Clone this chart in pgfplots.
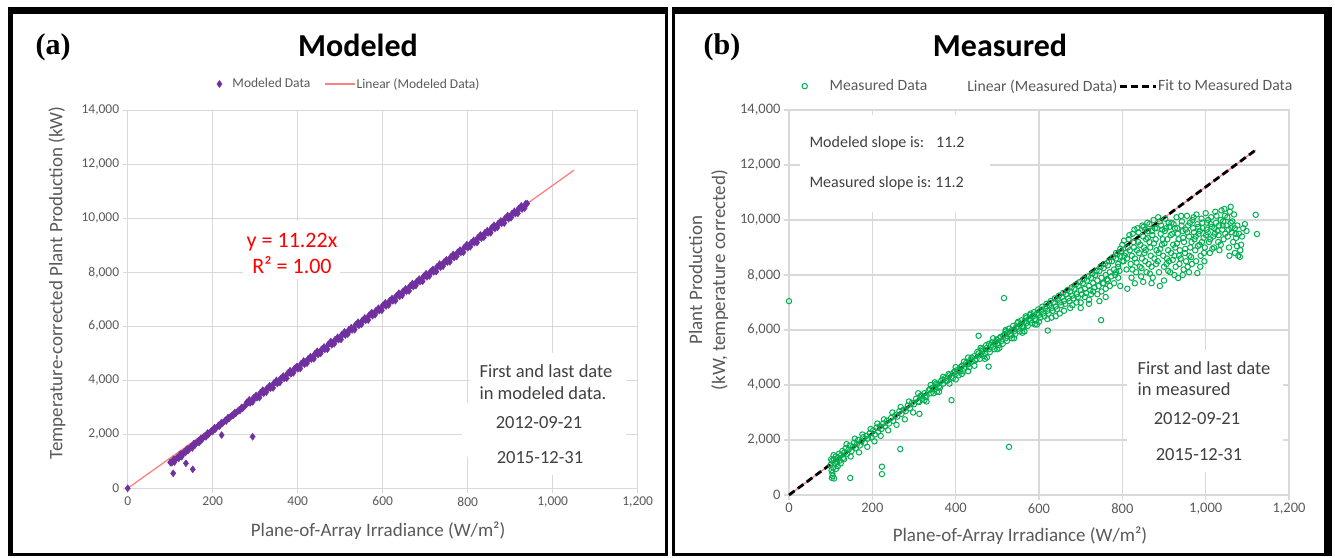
\documentclass[border=0pt]{standalone}
\usepackage{fontspec}
\setmainfont{Carlito}
\newfontfamily\serifbf{Liberation Serif}
\usepackage{pgfplots}
\pgfplotsset{compat=1.18}
\usepackage{pgfplotstable}

\definecolor{gridgray}{HTML}{D9D9D9}
\definecolor{txtgray}{HTML}{595959}
\definecolor{anngray}{HTML}{404040}
\definecolor{modpurple}{HTML}{7030A0}
\definecolor{trendpink}{HTML}{FF8080}
\definecolor{measgreen}{HTML}{00B050}

\pgfplotstableread{
x y
0 0
100 962
108 1072
116 1132
124 1271
132 1331
140 1461
148 1531
156 1660
164 1720
172 1850
180 1920
188 2049
196 2109
204 2239
212 2299
220 2428
228 2488
236 2618
244 2678
252 2807
260 2867
268 2997
276 3057
284 3186
292 3226
300 3356
308 3416
316 3556
324 3605
332 3725
340 3775
348 3925
356 3964
364 4094
372 4124
380 4284
388 4323
396 4453
404 4493
412 4643
420 4682
428 4812
436 4842
444 5002
452 5041
460 5171
468 5191
476 5361
484 5400
492 5530
500 5570
508 5720
516 5760
524 5889
532 5919
540 6079
548 6119
556 6248
564 6288
572 6438
580 6478
588 6607
596 6637
604 6797
612 6837
620 6966
628 7006
636 7156
644 7196
652 7325
660 7355
668 7515
676 7555
684 7684
692 7724
700 7874
708 7914
716 8044
724 8073
732 8233
740 8273
748 8403
756 8442
764 8592
772 8632
780 8762
788 8791
796 8951
804 8991
812 9121
820 9160
828 9310
836 9350
844 9480
852 9509
860 9669
868 9709
876 9839
884 9878
892 10028
900 10068
908 10198
916 10228
924 10387
932 10427
940 10547
104 947
112 1077
120 1106
128 1276
136 1326
144 1446
152 1495
160 1655
168 1695
176 1845
184 1904
192 2044
200 2104
208 2234
216 2304
224 2423
232 2493
240 2623
248 2693
256 2812
264 2882
272 2992
280 3182
288 3161
296 3351
304 3351
312 3541
320 3520
328 3710
336 3710
344 3900
352 3879
360 4069
368 4069
376 4259
384 4238
392 4428
400 4428
408 4618
416 4598
424 4787
432 4787
440 4977
448 4957
456 5146
464 5146
472 5336
480 5316
488 5505
496 5505
504 5695
512 5675
520 5864
528 5864
536 6054
544 6034
552 6223
560 6223
568 6413
576 6393
584 6582
592 6582
600 6772
608 6752
616 6942
624 6941
632 7131
640 7111
648 7301
656 7300
664 7490
672 7470
680 7660
688 7659
696 7849
704 7829
712 8019
720 8018
728 8208
736 8188
744 8378
752 8377
760 8567
768 8547
776 8737
784 8736
792 8926
800 8906
808 9096
816 9096
824 9285
832 9265
840 9455
848 9455
856 9644
864 9624
872 9814
880 9814
888 10003
896 9983
904 10173
912 10173
920 10362
928 10342
936 10532
102 944
110 974
118 1144
126 1184
134 1353
142 1393
150 1553
158 1593
166 1753
174 1792
182 1942
190 1992
198 2142
206 2191
214 2331
222 2391
230 2521
238 2580
246 2710
254 2770
262 2900
270 2959
278 3089
286 3279
294 3199
302 3438
310 3358
318 3638
326 3558
334 3797
342 3717
350 3997
358 3917
366 4157
374 4076
382 4356
390 4276
398 4516
406 4435
414 4715
422 4635
430 4875
438 4794
446 5074
454 4994
462 5234
470 5153
478 5433
486 5353
494 5593
502 5512
510 5792
518 5712
526 5952
534 5871
542 6151
550 6071
558 6311
566 6231
574 6510
582 6430
590 6670
598 6590
606 6869
614 6789
622 7029
630 6949
638 7228
646 7148
654 7388
662 7308
670 7587
678 7507
686 7747
694 7667
702 7946
710 7866
718 8106
726 8026
734 8305
742 8225
750 8465
758 8385
766 8665
774 8584
782 8824
790 8744
798 9024
806 8943
814 9183
822 9103
830 9383
838 9302
846 9542
854 9462
862 9742
870 9661
878 9901
886 9821
894 10101
902 10020
910 10260
918 10180
926 10460
934 10379
107 556
153 704
137 926
127 1170
221 1974
294 1911
}\modeled

\pgfplotstableread{
x y
0 7050
100 1100
102 900
104 1250
105 700
106 1000
108 1300
110 1150
112 1400
115 1200
118 1350
120 1500
122 1250
125 1450
128 1600
130 1350
133 1550
136 1700
140 1500
143 1650
146 1800
150 1600
153 1750
156 1900
160 1700
163 1850
166 2000
170 1800
174 1950
178 2100
182 1900
186 2150
190 2050
194 2250
198 2100
202 2350
206 2200
210 2450
214 2300
218 2500
222 2400
226 2600
230 2500
235 2700
240 2600
245 2800
250 2700
255 2900
260 2850
265 3050
270 2950
275 3100
280 3050
285 3250
290 3150
295 3350
300 3300
101 1300
104 800
107 1450
113 950
117 1050
124 1150
132 1300
138 1850
148 1400
158 2050
168 1550
176 2200
188 1750
196 2400
205 1950
212 2600
220 2150
228 2750
238 2350
248 3000
258 2550
268 3200
278 2750
288 3400
298 3000
103 620
108 600
147 620
223 1030
223 760
267 1670
313 2950
390 3450
479 4670
528 1750
516 7160
455 5790
621 5980
749 6360
934 7890
980 8070
305 3500
310 3400
315 3600
320 3500
325 3700
330 3600
335 3800
340 3700
345 3900
350 3850
355 4000
360 3950
365 4150
370 4050
375 4250
380 4150
385 4350
390 4300
395 4450
400 4400
405 4550
410 4500
415 4700
420 4600
425 4800
430 4750
435 4900
440 4850
445 5050
450 4950
455 5150
460 5100
465 5250
470 5150
475 5350
480 5300
485 5450
490 5400
495 5550
500 5500
505 5700
510 5600
515 5800
520 5700
525 5900
530 5850
535 6000
540 5950
545 6100
550 6050
555 6200
560 6150
565 6300
570 6250
575 6400
580 6350
585 6500
590 6400
595 6600
600 6550
330 3400
360 3750
400 4200
430 4500
470 4950
500 5300
540 5700
560 5900
590 6200
350 4100
420 4850
480 5500
520 5950
570 6450
310 3700
325 3450
340 4000
355 3750
370 4300
385 4050
400 4650
415 4400
430 5000
445 4700
460 5350
475 5000
490 5700
505 5350
520 6000
535 5700
550 6300
565 5950
580 6600
595 6200
605 6700
610 6600
615 6800
620 6700
625 6900
630 6800
635 7000
640 6850
645 7100
650 7000
655 7200
660 7050
665 7300
670 7150
675 7400
680 7250
685 7500
690 7300
695 7600
700 7450
705 7700
710 7500
715 7800
720 7600
725 7900
730 7700
735 8000
740 7800
745 8150
750 7900
755 8250
760 8000
765 8350
770 8100
775 8500
780 8200
785 8600
790 8400
795 8700
800 8500
620 6400
640 6500
660 6700
680 6900
700 7000
720 7100
740 7300
760 7500
780 7700
650 6600
690 7000
710 7200
730 7400
750 7400
770 7600
790 7900
675 6800
725 7300
765 7800
785 8100
600 6300
630 6450
700 6800
745 7050
755 7700
720 6950
760 7200
795 7600
312 3380
318 3620
327 3560
338 3850
347 3700
353 4050
362 3900
368 4200
377 4150
383 4400
393 4250
398 4500
407 4350
412 4650
418 4500
427 4750
433 4650
438 5000
447 4900
452 5200
458 4950
463 5300
468 5050
473 5450
482 5200
487 5550
493 5300
498 5650
503 5450
508 5750
513 5500
518 5850
523 5600
528 6050
533 5800
538 6150
543 5850
548 6250
553 5950
558 6350
563 6100
568 6500
573 6150
578 6550
583 6250
588 6650
593 6350
598 6750
603 6450
608 6850
613 6500
618 6950
623 6600
628 7050
633 6700
638 7150
643 6750
648 7250
653 6900
658 7350
663 6950
668 7450
673 7050
678 7550
683 7150
688 7650
693 7200
698 7750
703 7300
708 7850
713 7350
718 7950
723 7450
728 8050
733 7550
738 8150
743 7600
748 8300
753 7700
758 8400
763 7850
768 8500
773 7950
778 8650
783 8000
788 8750
793 8150
798 8850
800 9100
805 8700
810 8200
812 7500
815 9300
818 8900
820 8400
822 7900
825 9500
828 9000
830 8600
833 8100
836 9700
838 9200
840 8800
842 8300
845 7950
848 9800
850 9400
852 9000
855 8500
858 8100
860 9900
862 9600
865 9200
868 8700
870 8300
873 7900
875 10000
878 9700
880 9300
882 8900
885 8500
888 8100
890 9950
892 9500
895 9100
898 8700
900 8300
903 10050
905 9700
908 9300
910 8900
912 8500
915 8100
918 9900
920 9500
922 9100
925 8700
928 8300
930 10100
932 9700
935 9300
938 8900
940 8600
943 9950
945 9600
948 9200
950 8800
953 8500
955 10150
958 9800
960 9400
963 9000
965 8650
968 10000
970 9700
973 9300
975 8900
978 10200
980 9850
983 9500
985 9100
988 8700
990 10050
993 9700
995 9350
998 9000
1000 10250
1003 9900
1005 9550
1008 9200
1010 8800
1013 10100
1015 9750
1018 9400
1020 9000
1023 10300
1025 9900
1028 9600
1030 9200
1033 8900
1036 10000
1040 9650
1043 9300
1046 10150
1050 9800
1053 9400
1056 9000
1060 9900
1063 9550
1066 9200
1070 9700
1073 9350
1076 9800
1080 9500
1085 9100
1090 9700
1078 8700
1083 8900
855 9650
865 9850
872 9450
883 9700
893 9800
902 9600
913 9750
923 9850
933 9500
942 9800
952 9650
962 9900
972 9550
982 9750
992 9900
1002 9650
1012 9850
1022 9500
1032 9800
1042 9950
1052 10100
1062 9700
1038 10350
1045 10400
1058 10300
1068 10200
785 8800
790 8300
795 8950
803 8500
808 8800
813 9000
823 8700
827 9200
835 8900
843 9100
847 8600
853 8800
857 9300
863 8400
867 9000
877 8600
887 8800
897 9300
907 8600
917 8800
927 9000
937 8400
947 8200
957 8300
967 8400
977 8500
987 8300
997 8500
960 8100
900 7800
890 7600
870 7700
850 7750
830 7700
910 8150
925 8000
945 8000
804 9250
811 8600
817 9450
824 8200
829 9650
834 8450
839 9550
846 8250
851 9750
856 8900
861 9350
866 8050
871 9600
876 9150
881 8400
886 10100
891 8950
896 9650
901 9150
906 8400
911 9900
916 9450
921 8550
926 9700
931 9150
936 8700
941 10150
946 9350
951 8950
956 9550
961 8700
966 9200
971 10100
976 9400
981 9050
986 9600
991 9200
996 8800
1001 9450
1006 10000
1011 9300
1016 8950
1021 9700
1026 10150
1031 9450
1036 9100
1041 9800
1047 9500
1055 9650
1064 9950
1072 9500
1087 9400
1094 9850
1098 9600
1057 8700
1070 8800
1075 9050
1060 10480
1120 10190
1123 9490
1082 8660
}\measured

\pgfplotsset{
  excelstyle/.style={
    scale only axis,
    xmin=0, xmax=1200, ymin=0, ymax=14000,
    xtick={0,200,...,1200}, ytick={0,2000,...,14000},
    grid=major,
    major grid style={gridgray, line width=1.3pt},
    axis line style={gridgray, line width=1.3pt},
    tick style={gridgray, line width=1.3pt},
    tick align=outside, major tick length=5pt,
    xtick pos=left, ytick pos=left,
    scaled ticks=false,
    /pgf/number format/1000 sep={,},
    /pgf/number format/assume math mode=true,
    clip=false,
    legend cell align=left,
  },
  diamleg/.style={legend image code/.code={%
    \draw[mark repeat=2,mark phase=2,##1,only marks] plot coordinates {(-3pt,0pt) (0pt,0pt) (3pt,0pt)};
    \path[draw=none,fill=none] (-4pt,0pt) -- (12pt,0pt);}},
  circleg/.style={legend image code/.code={%
    \draw[mark repeat=2,mark phase=2,##1,only marks] plot coordinates {(-3pt,0pt) (0pt,0pt) (3pt,0pt)};
    \path[draw=none,fill=none] (-4pt,0pt) -- (24pt,0pt);}},
  linelegA/.style={legend image code/.code={\draw[##1] (0pt,0pt) -- (30pt,0pt);}},
  linelegB/.style={legend image code/.code={\draw[##1] (0pt,0pt) -- (36pt,0pt);}},
  noleg/.style={legend image code/.code={\path[draw=none,fill=none] (0pt,0pt) -- (38pt,0pt);}},
}

\begin{document}
\begin{tikzpicture}[x=1pt,y=1pt]
\path[use as bounding box] (0,0) rectangle (1335,557);

% ---------- Panel (a) ----------
\begin{axis}[excelstyle,
  at={(127.7pt,68.7pt)}, anchor=south west,
  width=510pt, height=378pt,
  tick label style={font=\fontsize{13.5}{16}\selectfont, color=txtgray},
  xlabel={Plane-of-Array Irradiance (W/m²)},
  ylabel={Temperature-corrected Plant Production (kW)},
  label style={font=\fontsize{19}{23}\selectfont, color=txtgray},
  x label style={at={(axis description cs:0.491,-0.113)}, anchor=center},
  y label style={at={(axis description cs:-0.1386,0.543)}, anchor=center},
  legend columns=2,
  legend style={at={(axis description cs:0.432,1.0696)}, anchor=center,
    draw=none, fill=none, font=\fontsize{13.5}{16}\selectfont, text=txtgray,
    nodes={inner xsep=1pt, inner ysep=2pt},
    /tikz/every odd column/.append style={column sep=0pt},
    /tikz/every even column/.append style={column sep=13pt}},
]
\addplot[only marks, mark=diamond*, mark size=3.5pt, color=modpurple,
  mark options={fill=modpurple}, diamleg] table {\modeled};
\addlegendentry{Modeled Data}
\addplot[trendpink, line width=1.3pt, linelegA]
  coordinates {(0,0) (1050,11781)};
\addlegendentry{Linear (Modeled Data)}
\end{axis}

% ---------- Panel (b) ----------
\begin{axis}[excelstyle,
  at={(789pt,62pt)}, anchor=south west,
  width=500pt, height=385pt,
  tick label style={font=\fontsize{14.5}{17}\selectfont, color=txtgray},
  xlabel={Plane-of-Array Irradiance (W/m²)},
  ylabel={Plant Production\\(kW, temperature corrected)},
  label style={font=\fontsize{19}{23}\selectfont, color=txtgray, align=center},
  x label style={at={(axis description cs:0.462,-0.1065)}, anchor=center},
  y label style={at={(axis description cs:-0.161,0.558)}, anchor=center},
  legend columns=3,
  legend style={at={(axis description cs:0.516,1.062)}, anchor=center,
    draw=none, fill=none, font=\fontsize{15.7}{19}\selectfont, text=txtgray,
    nodes={inner xsep=1pt, inner ysep=2pt},
    /tikz/every odd column/.append style={column sep=0pt},
    /tikz/every even column/.append style={column sep=0pt}},
]
\addplot[only marks, mark=o, mark size=2.7pt, color=measgreen,
  mark options={line width=1pt}, circleg] table {\measured};
\addlegendentry{Measured Data}
\addplot[trendpink, line width=1.3pt, noleg]
  coordinates {(0,0) (1120,12544)};
\addlegendentry{Linear (Measured Data)}
\addplot[black, line width=2.8pt, dash pattern=on 7pt off 4pt, linelegB]
  coordinates {(0,0) (1120,12544)};
\addlegendentry{Fit to Measured Data}
\end{axis}

% ---------- Annotations (a) ----------
\node[font=\bfseries\fontsize{32}{36}\selectfont] at (358,512) {Modeled};
\node[font=\serifbf\bfseries\fontsize{30}{34}\selectfont] at (53,510) {(a)};
\fill[white] (243,278) rectangle (340,336);
\node[red, align=center, font=\fontsize{22}{26}\selectfont] at (292,304)
  {y = 11.22x\\R² = 1.00};
\fill[white] (470,82) rectangle (626,204);
\fill[white] (462,100) rectangle (626,154);
\begin{scope}[every node/.style={text=anngray, font=\fontsize{18.5}{22}\selectfont}]
\node[anchor=west] at (476,186) {First and last date};
\node[anchor=west] at (476,164) {in modeled data.};
\node at (539,134) {2012-09-21};
\node at (540,99) {2015-12-31};
\end{scope}

% ---------- Annotations (b) ----------
\node[font=\bfseries\fontsize{32}{36}\selectfont] at (1000,512) {Measured};
\node[font=\serifbf\bfseries\fontsize{30}{34}\selectfont] at (722,510) {(b)};
\fill[white] (800,345) rectangle (990,442);
\begin{scope}[every node/.style={text=anngray, font=\fontsize{16}{19}\selectfont}]
\node[anchor=west] at (806,414) {Modeled slope is:\hspace{12pt}11.2};
\node[anchor=west] at (806,374) {Measured slope is:\hspace{4pt}11.2};
\end{scope}
\fill[white] (1127,85) rectangle (1283,207);
\begin{scope}[every node/.style={text=anngray, font=\fontsize{18.5}{22}\selectfont}]
\node[anchor=west] at (1134,189) {First and last date};
\node[anchor=west] at (1134,168) {in measured};
\node at (1197,138) {2012-09-21};
\node at (1199,102) {2015-12-31};
\end{scope}

% ---------- Frames ----------
\fill[black] (8,543) rectangle (668,550);
\fill[black] (8,1) rectangle (13,550);
\fill[black] (665,1) rectangle (668,550);
\fill[black] (8,1) rectangle (668,4);
\fill[black] (672,543) rectangle (1332,550);
\fill[black] (672,1) rectangle (675,550);
\fill[black] (1324,1) rectangle (1332,550);
\fill[black] (672,1) rectangle (1332,4);
\end{tikzpicture}
\end{document}
